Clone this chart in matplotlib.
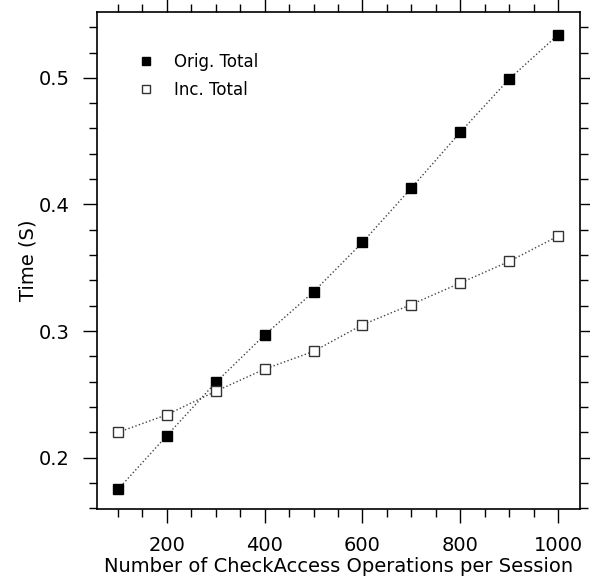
import matplotlib
matplotlib.use("Agg")
import matplotlib.pyplot as plt
from matplotlib.ticker import MultipleLocator

ops = [100, 200, 300, 400, 500, 600, 700, 800, 900, 1000]
orig_total = [0.175, 0.2175, 0.2595, 0.297, 0.331, 0.370, 0.413, 0.457, 0.499, 0.534]
inc_total = [0.220, 0.234, 0.2525, 0.270, 0.284, 0.305, 0.321, 0.338, 0.355, 0.375]

plt.rcParams['font.family'] = ['DejaVu Sans']
fig = plt.figure(figsize=(5.90, 5.79), dpi=100)
ax = fig.add_axes([97/590, 1-509/579, (580-97)/590, (509-12)/579])

ax.plot(ops, orig_total, linestyle=':', color='#444444', linewidth=1.0,
        marker='s', markersize=7.6, markerfacecolor='black', markeredgecolor='black',
        label='Orig. Total')
ax.plot(ops, inc_total, linestyle=':', color='#444444', linewidth=1.0,
        marker='s', markersize=6.8, markerfacecolor='white', markeredgecolor='#333333',
        markeredgewidth=1.0, label='Inc. Total')

ax.set_xlim(57, 1045)
ax.set_ylim(0.1595, 0.552)
ax.xaxis.set_major_locator(MultipleLocator(200))
ax.xaxis.set_minor_locator(MultipleLocator(50))
ax.yaxis.set_major_locator(MultipleLocator(0.1))
ax.yaxis.set_minor_locator(MultipleLocator(0.02))
ax.tick_params(which='both', direction='out', top=True, right=True, labelsize=14, colors='black')
ax.tick_params(which='major', length=10, width=1, pad=9.5)
ax.tick_params(which='minor', length=6, width=1)
for s in ax.spines.values():
    s.set_linewidth(1.2)

ax.set_xlabel('Number of CheckAccess Operations per Session', fontsize=14)
ax.xaxis.set_label_coords(0.5, -(567-509)/497, transform=ax.transAxes)
ax.xaxis.label.set_va('center')
ax.set_ylabel('Time (S)', fontsize=14)
ax.yaxis.set_label_coords(-(97-28)/483, 0.5, transform=ax.transAxes)
ax.yaxis.label.set_va('center')

leg = ax.legend(loc='upper left', bbox_to_anchor=(0.054, 0.948), frameon=False, fontsize=12,
                handlelength=1.0, handletextpad=1.18, labelspacing=0.58, markerscale=0.85)
for h in leg.get_lines():
    h.set_linestyle('none')

fig.savefig('out.png', dpi=100)
